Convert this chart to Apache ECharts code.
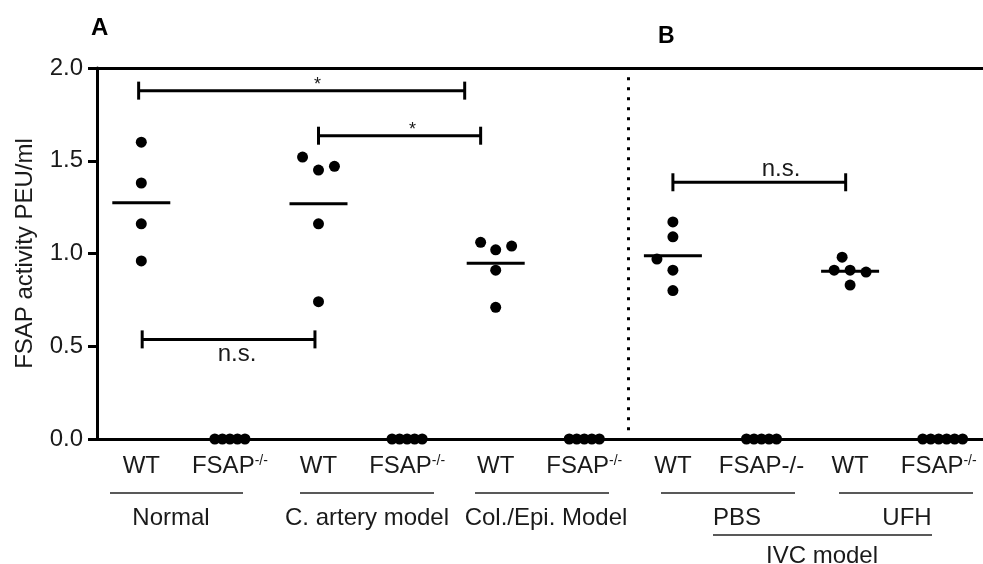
<!DOCTYPE html>
<html>
<head>
<meta charset="utf-8">
<script src="https://cdn.jsdelivr.net/npm/echarts@6/dist/echarts.min.js"></script>
<style>
  html, body { margin: 0; padding: 0; background: #fff; }
  #main { width: 983px; height: 564px; }
</style>
</head>
<body>
<div id="main"></div>
<script>
// categories along the bottom axis ("^" marks a superscript part)
var categories = ['WT', 'FSAP^-/-', 'WT', 'FSAP^-/-', 'WT', 'FSAP^-/-', 'WT', 'FSAP-/-', 'WT', 'FSAP^-/-'];
var yTicks = [0, 0.5, 1.0, 1.5, 2.0];

// measured values per group (PEU/ml) and the horizontal jitter of each dot (category units)
var wtNormal = [1.60, 1.38, 1.16, 0.96];
var wtNormalJit = [0, 0, 0, 0];
var wtCartery = [1.52, 1.45, 1.47, 1.16, 0.74];
var wtCarteryJit = [-0.18, 0, 0.18, 0, 0];
var wtColEpi = [1.06, 1.02, 1.04, 0.91, 0.71];
var wtColEpiJit = [-0.17, 0, 0.18, 0, 0];
var wtPBS = [1.17, 1.09, 0.97, 0.91, 0.80];
var wtPBSJit = [0, 0, -0.18, 0, 0];
var wtUFH = [0.98, 0.91, 0.91, 0.90, 0.83];
var wtUFHJit = [-0.09, -0.18, 0, 0.18, 0];
var koNormal = [0, 0, 0, 0, 0];
var koCartery = [0, 0, 0, 0, 0];
var koColEpi = [0, 0, 0, 0, 0];
var koPBS = [0, 0, 0, 0, 0];
var koUFH = [0, 0, 0, 0, 0, 0];
var koJit5 = [-0.17, -0.085, 0, 0.085, 0.17];
var koJit6 = [-0.18, -0.09, 0, 0.09, 0.18, 0.27];

// group means (horizontal bars), one per WT column
var meanCats = [0, 2, 4, 6, 8];
var meanVals = [1.274, 1.268, 0.947, 0.988, 0.904];

// significance brackets
var sigFrom = [-0.03, 2.0, 0.01, 6.0];
var sigTo = [3.65, 3.83, 1.96, 7.95];
var sigY = [1.878, 1.635, 0.537, 1.384];
var sigText = ['*', '*', 'n.s.', 'n.s.'];
var sigTextX = [1.99, 3.06, 1.08, 7.22];
var sigBelow = [false, false, true, false];

// dotted divider between panel A and B
var dividerX = 5.5;
var dividerRange = [1.95, 0.03];

var groups = [
  [0, wtNormal, wtNormalJit], [1, koNormal, koJit5],
  [2, wtCartery, wtCarteryJit], [3, koCartery, koJit5],
  [4, wtColEpi, wtColEpiJit], [5, koColEpi, koJit5],
  [6, wtPBS, wtPBSJit], [7, koPBS, koJit5],
  [8, wtUFH, wtUFHJit], [9, koUFH, koJit6]
];
var dots = [];
groups.forEach(function (g) {
  g[1].forEach(function (v, i) { dots.push([g[0] + g[2][i], v]); });
});
var means = meanCats.map(function (c, i) { return [c, meanVals[i]]; });
var sigData = sigFrom.map(function (f, i) { return [f, sigTo[i], sigY[i], sigTextX[i]]; });

var INK = '#000';
var FONT = '"Liberation Sans", Arial, sans-serif';
var FS = 24;

var chart = echarts.init(document.getElementById('main'));

var option = {
  backgroundColor: '#fff',
  animation: false,
  textStyle: { fontFamily: FONT, color: INK },
  grid: { left: 97, right: -4, top: 68, bottom: 125, containLabel: false },
  xAxis: [
    {
      type: 'category',
      data: categories,
      boundaryGap: true,
      axisLine: { onZero: false, lineStyle: { color: INK, width: 3 } },
      axisTick: { alignWithLabel: true, length: 9, lineStyle: { color: INK, width: 3 } },
      axisLabel: {
        interval: 0,
        margin: 15,
        fontSize: FS,
        color: '#1a1a1a',
        fontFamily: FONT,
        formatter: function (v) {
          var p = v.split('^');
          return p.length > 1 ? p[0] + '{sup|' + p[1] + '}' : v;
        },
        rich: {
          sup: { fontSize: 14, verticalAlign: 'top', padding: [0, 0, 11, 0], color: '#1a1a1a', fontFamily: FONT }
        }
      },
      splitLine: { show: false }
    },
    {
      type: 'value',
      position: 'top',
      min: -0.5,
      max: 9.5,
      axisLine: { show: true, onZero: false, lineStyle: { color: INK, width: 3 } },
      axisTick: { show: false },
      axisLabel: { show: false },
      splitLine: { show: false }
    }
  ],
  yAxis: {
    type: 'value',
    min: yTicks[0],
    max: yTicks[yTicks.length - 1],
    interval: 0.5,
    name: 'FSAP activity PEU/ml',
    nameLocation: 'middle',
    nameGap: 60,
    nameRotate: 90,
    nameTextStyle: { fontSize: FS, color: '#1a1a1a', fontFamily: FONT },
    axisLine: { show: true, onZero: false, lineStyle: { color: INK, width: 3 } },
    axisTick: { show: true, length: 9, lineStyle: { color: INK, width: 3 } },
    axisLabel: {
      fontSize: FS, color: '#1a1a1a', margin: 14, fontFamily: FONT,
      formatter: function (v) { return v.toFixed(1); }
    },
    splitLine: { show: false }
  },
  series: [
    {
      name: 'values',
      type: 'scatter',
      xAxisIndex: 1,
      symbol: 'circle',
      symbolSize: 11,
      itemStyle: { color: INK, opacity: 1 },
      data: dots,
      z: 5,
      markLine: {
        silent: true,
        symbol: 'none',
        label: { show: false },
        lineStyle: { color: INK, width: 3, type: [3, 7], opacity: 1 },
        data: [[{ coord: [dividerX, dividerRange[0]] }, { coord: [dividerX, dividerRange[1]] }]]
      }
    },
    {
      name: 'mean',
      type: 'scatter',
      xAxisIndex: 1,
      symbol: 'rect',
      symbolSize: [58, 3],
      itemStyle: { color: INK, opacity: 1 },
      data: means,
      z: 6
    },
    {
      name: 'significance',
      type: 'custom',
      xAxisIndex: 1,
      data: sigData,
      z: 6,
      renderItem: function (params, api) {
        var i = params.dataIndex;
        var a = api.coord([api.value(0), api.value(2)]);
        var b = api.coord([api.value(1), api.value(2)]);
        var t = api.coord([api.value(3), api.value(2)]);
        var st = { stroke: INK, lineWidth: 3 };
        var star = sigText[i] === '*';
        return {
          type: 'group',
          children: [
            { type: 'line', shape: { x1: a[0], y1: a[1], x2: b[0], y2: b[1] }, style: st },
            { type: 'line', shape: { x1: a[0], y1: a[1] - 9, x2: a[0], y2: a[1] + 9 }, style: st },
            { type: 'line', shape: { x1: b[0], y1: b[1] - 9, x2: b[0], y2: b[1] + 9 }, style: st },
            {
              type: 'text',
              style: {
                text: sigText[i],
                x: t[0],
                y: sigBelow[i] ? t[1] + 3 : (star ? t[1] + 3 : t[1] - 1),
                align: 'center',
                verticalAlign: sigBelow[i] ? 'top' : 'bottom',
                fontSize: star ? 18 : FS,
                fontFamily: FONT,
                fill: '#1a1a1a'
              }
            }
          ]
        };
      }
    }
  ],
  graphic: [
    { type: 'text', left: 91, top: 16, style: { text: 'A', fontSize: 24, fontWeight: 'bold', fontFamily: FONT, fill: INK } },
    { type: 'text', left: 658, top: 25, style: { text: 'B', fontSize: 23, fontWeight: 'bold', fontFamily: FONT, fill: INK } },

    // group underlines
    { type: 'line', shape: { x1: 110, y1: 493, x2: 243, y2: 493 }, style: { stroke: '#222', lineWidth: 1.5 } },
    { type: 'line', shape: { x1: 300, y1: 493, x2: 434, y2: 493 }, style: { stroke: '#222', lineWidth: 1.5 } },
    { type: 'line', shape: { x1: 475, y1: 493, x2: 609, y2: 493 }, style: { stroke: '#222', lineWidth: 1.5 } },
    { type: 'line', shape: { x1: 661, y1: 493, x2: 795, y2: 493 }, style: { stroke: '#222', lineWidth: 1.5 } },
    { type: 'line', shape: { x1: 839, y1: 493, x2: 973, y2: 493 }, style: { stroke: '#222', lineWidth: 1.5 } },
    { type: 'line', shape: { x1: 713, y1: 535, x2: 932, y2: 535 }, style: { stroke: '#222', lineWidth: 1.5 } },

    // group names
    { type: 'text', x: 171, y: 518, style: { text: 'Normal', fontSize: FS, fontFamily: FONT, fill: '#1a1a1a', align: 'center', verticalAlign: 'middle' } },
    { type: 'text', x: 367, y: 518, style: { text: 'C. artery model', fontSize: FS, fontFamily: FONT, fill: '#1a1a1a', align: 'center', verticalAlign: 'middle' } },
    { type: 'text', x: 546, y: 518, style: { text: 'Col./Epi. Model', fontSize: FS, fontFamily: FONT, fill: '#1a1a1a', align: 'center', verticalAlign: 'middle' } },
    { type: 'text', x: 737, y: 518, style: { text: 'PBS', fontSize: FS, fontFamily: FONT, fill: '#1a1a1a', align: 'center', verticalAlign: 'middle' } },
    { type: 'text', x: 907, y: 518, style: { text: 'UFH', fontSize: FS, fontFamily: FONT, fill: '#1a1a1a', align: 'center', verticalAlign: 'middle' } },
    { type: 'text', x: 822, y: 556, style: { text: 'IVC model', fontSize: FS, fontFamily: FONT, fill: '#1a1a1a', align: 'center', verticalAlign: 'middle' } }
  ]
};

chart.setOption(option);
</script>
</body>
</html>
